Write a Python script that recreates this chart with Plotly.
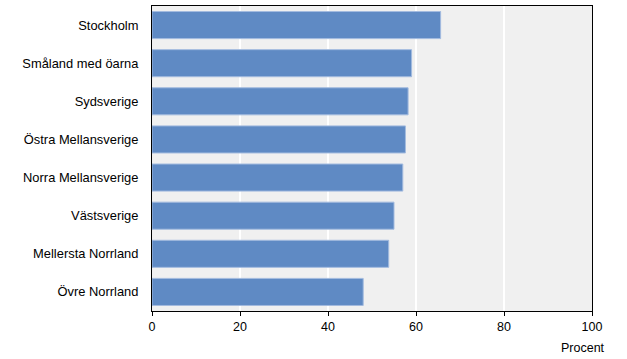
import plotly.graph_objects as go

regions = ["Stockholm", "Småland med öarna", "Sydsverige", "Östra Mellansverige",
           "Norra Mellansverige", "Västsverige", "Mellersta Norrland", "Övre Norrland"]
values = [65.6, 59.0, 58.2, 57.6, 57.0, 55.0, 53.8, 48.0]
x_ticks = [0, 20, 40, 60, 80, 100]

fig = go.Figure(go.Bar(
    x=values, y=regions, orientation="h",
    marker=dict(color="#5f8ac4", line=dict(color="#a3bbdf", width=1)),
))

fig.update_layout(
    width=627, height=359,
    margin=dict(l=152, r=35, t=6, b=48),
    paper_bgcolor="white", plot_bgcolor="#f0f0f0",
    font=dict(family="Liberation Sans, Arial, sans-serif", size=12, color="black"),
    bargap=0.29, showlegend=False,
    xaxis=dict(range=[0, 100], tickvals=x_ticks, showgrid=True, gridcolor="white", gridwidth=2,
               zeroline=False, showline=True, linecolor="black", linewidth=1, mirror=True,
               ticks="outside", ticklen=4, tickcolor="black", tickfont=dict(size=12.5)),
    yaxis=dict(categoryorder="array", categoryarray=regions[::-1], autorange=True,
               showline=True, linecolor="black", linewidth=1, mirror=True,
               showgrid=False, ticks="", ticklabelstandoff=10, tickfont=dict(size=12.9)),
    annotations=[dict(text="Procent", xref="paper", yref="paper", x=1.035, y=-0.12,
                      xanchor="right", yanchor="middle", showarrow=False,
                      font=dict(size=12.5))],
)

fig.write_html("out.html")
